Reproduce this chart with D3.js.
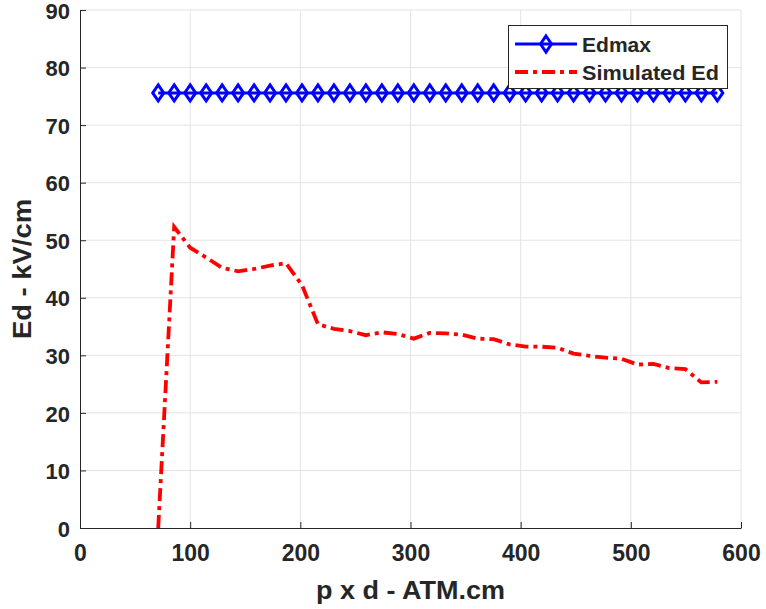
<!DOCTYPE html>
<html><head><meta charset="utf-8">
<script src="https://cdn.jsdelivr.net/npm/d3@7"></script>
<style>body{margin:0;background:#fff}svg{display:block}text{font-family:"Liberation Sans",Arial,sans-serif;font-weight:bold;fill:#262626}</style>
</head><body><svg id="c" width="766" height="609"></svg>
<script>
const pd = [71,85.5,100,114.5,129,143.5,158,172.5,187,201.5,216,230.5,245,259.5,274,288.5,303,317.5,332,346.5,361,375.5,390,404.5,419,433.5,448,462.5,477,491.5,506,520.5,535,549.5,564,578.5];
const edmax = [75.6,75.6,75.6,75.6,75.6,75.6,75.6,75.6,75.6,75.6,75.6,75.6,75.6,75.6,75.6,75.6,75.6,75.6,75.6,75.6,75.6,75.6,75.6,75.6,75.6,75.6,75.6,75.6,75.6,75.6,75.6,75.6,75.6,75.6,75.6,75.6];
const simEd = [0,52.3,48.7,47.0,45.2,44.6,45.0,45.6,46.0,42.2,35.4,34.6,34.2,33.5,34.0,33.7,32.9,33.9,33.8,33.6,32.9,32.8,31.9,31.5,31.5,31.3,30.3,29.9,29.6,29.4,28.4,28.5,27.8,27.6,25.3,25.4];
const xTicks = [0,100,200,300,400,500,600];
const yTicks = [0,10,20,30,40,50,60,70,80,90];
const seriesNames = ["Edmax","Simulated Ed"];

const svg = d3.select("#c");
const L=80,R=741,T=10,B=528;
const x = d3.scaleLinear().domain([0,600]).range([L,R]);
const y = d3.scaleLinear().domain([0,90]).range([B,T]);

// grid
svg.append("g").selectAll("line").data(xTicks.slice(1)).join("line")
  .attr("x1",d=>x(d)).attr("x2",d=>x(d)).attr("y1",T).attr("y2",B)
  .attr("stroke","#e3e3e3").attr("stroke-width",1);
svg.append("g").selectAll("line").data(yTicks.slice(1)).join("line")
  .attr("x1",L).attr("x2",R).attr("y1",d=>y(d)).attr("y2",d=>y(d))
  .attr("stroke","#e3e3e3").attr("stroke-width",1);

// axes
const xa = svg.append("g").attr("transform",`translate(0,${B})`)
  .call(d3.axisBottom(x).tickValues(xTicks).tickSize(-6).tickPadding(13).tickSizeOuter(0));
const ya = svg.append("g").attr("transform",`translate(${L},0)`)
  .call(d3.axisLeft(y).tickValues(yTicks).tickSize(-6).tickPadding(10).tickSizeOuter(0));
[xa,ya].forEach(a=>{
  a.select(".domain").attr("stroke","#262626").attr("stroke-width",1);
  a.selectAll(".tick line").attr("stroke","#262626");
  a.selectAll(".tick text").attr("font-size",23).attr("font-family","Liberation Sans, Arial, sans-serif").attr("font-weight","bold").attr("fill","#262626");
});
xa.selectAll(".tick text").attr("dy","0.85em");
ya.selectAll(".tick text").attr("font-size",22).attr("dy","0.37em");

// titles
svg.append("text").attr("x",(L+R)/2).attr("y",599).attr("text-anchor","middle").attr("font-size",25)
  .attr("textLength",189).attr("lengthAdjust","spacingAndGlyphs").text("p x d - ATM.cm");
svg.append("text").attr("transform",`translate(31,${(T+B)/2}) rotate(-90)`).attr("text-anchor","middle").attr("font-size",25)
  .attr("textLength",140).attr("lengthAdjust","spacingAndGlyphs").text("Ed - kV/cm");

// red line
const line = d3.line().x((d,i)=>x(pd[i])).y(d=>y(d));
svg.append("path").datum(simEd).attr("d",line).attr("fill","none")
  .attr("stroke","#ff0000").attr("stroke-width",3.8).attr("stroke-dasharray","13,5,4,5");

// blue line + diamonds
svg.append("path").datum(edmax).attr("d",line).attr("fill","none")
  .attr("stroke","#0000ff").attr("stroke-width",3);
const dia = (cx,cy)=>`M${cx},${cy-8}L${cx+5.5},${cy}L${cx},${cy+8}L${cx-5.5},${cy}Z`;
svg.append("g").selectAll("path").data(edmax).join("path")
  .attr("d",(d,i)=>dia(x(pd[i]),y(d))).attr("fill","none")
  .attr("stroke","#0000ff").attr("stroke-width",3);

// legend
const lg = svg.append("g");
lg.append("rect").attr("x",508.5).attr("y",25.5).attr("width",219).attr("height",63)
  .attr("fill","#fff").attr("stroke","#262626").attr("stroke-width",1);
lg.append("line").attr("x1",515).attr("x2",577).attr("y1",44).attr("y2",44).attr("stroke","#0000ff").attr("stroke-width",3);
lg.append("path").attr("d",dia(546,44)).attr("fill","none").attr("stroke","#0000ff").attr("stroke-width",3);
lg.append("line").attr("x1",515).attr("x2",577).attr("y1",72).attr("y2",72).attr("stroke","#ff0000").attr("stroke-width",3.8).attr("stroke-dasharray","13,5,4,5");
lg.selectAll("text.l").data(seriesNames).join("text").attr("class","l")
  .attr("x",582).attr("y",(d,i)=>44+i*28).attr("dy","0.36em").attr("font-size",21).attr("fill","#000")
  .attr("textLength",(d,i)=>i?137:69).attr("lengthAdjust","spacingAndGlyphs").text(d=>d);
</script></body></html>
